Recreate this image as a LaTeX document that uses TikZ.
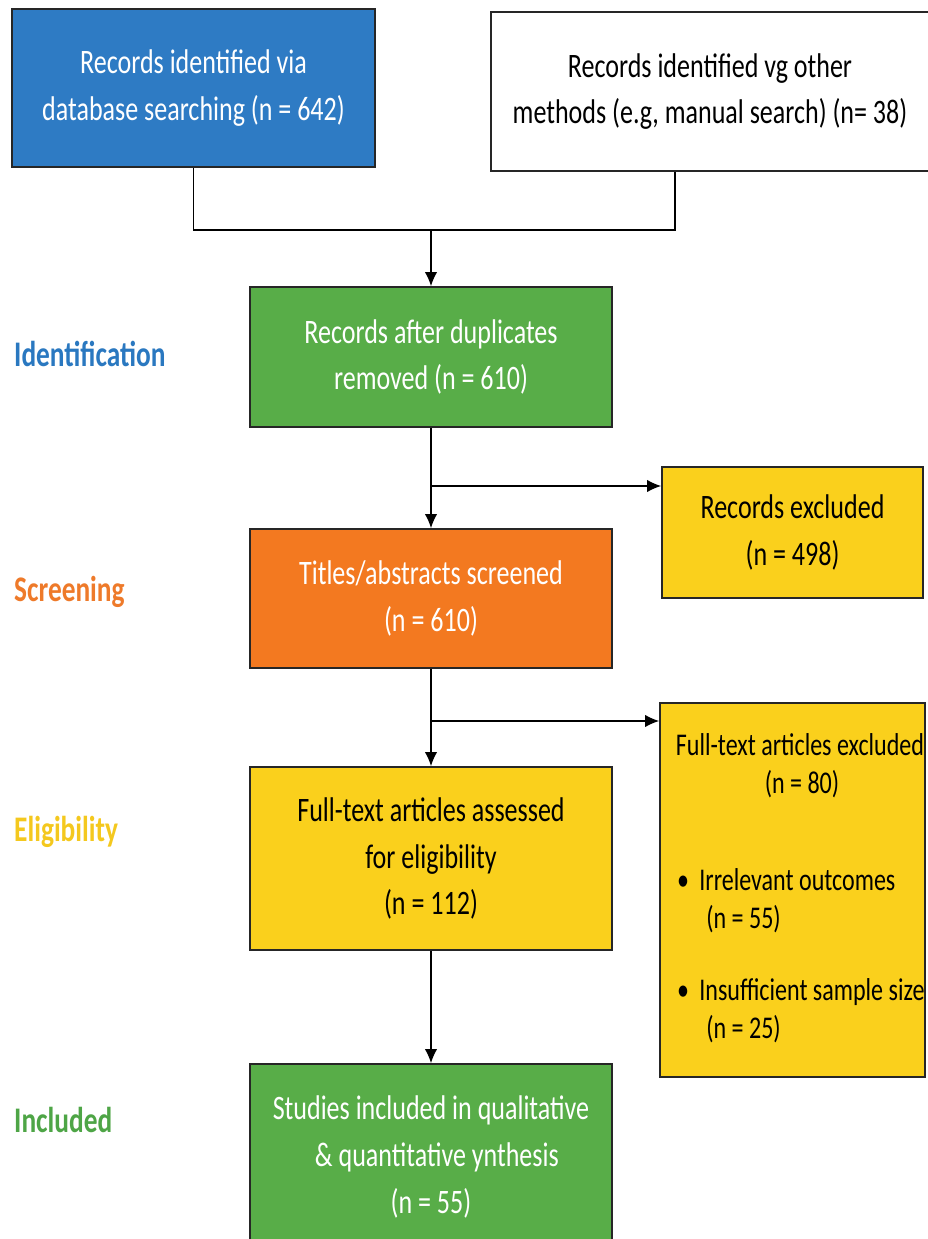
\documentclass[tikz,border=0pt]{standalone}
\usepackage{fontspec}
\setmainfont{Carlito}[FakeStretch=0.76]
\usepackage{tikz}
\usetikzlibrary{arrows.meta}
\usetikzlibrary{positioning}

\definecolor{dbblue}{RGB}{46,123,196}
\definecolor{boxgreen}{RGB}{88,173,72}
\definecolor{boxorange}{RGB}{243,121,32}
\definecolor{boxyellow}{RGB}{250,208,28}
\definecolor{lblblue}{RGB}{42,120,192}
\definecolor{lblorange}{RGB}{238,122,42}
\definecolor{lblyellow}{RGB}{244,200,30}
\definecolor{lblgreen}{RGB}{78,165,70}

\begin{document}
\begin{tikzpicture}[x=0.02cm,y=-0.02cm,
  box/.style={rectangle,draw=black!85,line width=0.9pt,align=center,inner sep=2pt,font=\fontsize{19.5}{26.6}\selectfont},
  mainbox/.style={box,minimum width=7.24cm},
  stage/.style={font=\bfseries\fontsize{20.5}{24}\selectfont,anchor=west},
  txt/.style={font=\fontsize{18}{22}\selectfont,inner sep=0pt},
  conn/.style={line width=0.8pt,black},
  arr/.style={conn,-{Latex[length=8pt,width=7pt]}}]
\useasboundingbox (0,0) rectangle (928,1239);

% sources
\node at (193.5,88)[box,fill=dbblue,text=white,minimum width=7.26cm,minimum height=3.16cm](db){Records identified via\\database searching (n = 642)};
\node at (710,91.5)[box,fill=white,minimum width=8.76cm,minimum height=3.18cm](other){Records identified vg other\\methods (e.g, manual search) (n= 38)};

% main column
\node at (431,357)[mainbox,fill=boxgreen,text=white,minimum height=2.8cm](dup){Records after duplicates\\removed (n = 610)};
\node at (431,598.5)[mainbox,fill=boxorange,text=white,minimum height=2.78cm](screen){Titles/abstracts screened\\(n = 610)};
\node at (431,858.5)[mainbox,fill=boxyellow,minimum height=3.66cm](elig){Full-text articles assessed\\for eligibility\\(n = 112)};
\node at (431,1157)[mainbox,fill=boxgreen,text=white,minimum height=3.72cm](incl){Studies included in qualitative\\\ \ \& quantitative ynthesis\\(n = 55)};

% excluded boxes
\node at (792.5,532.5)[box,fill=boxyellow,minimum width=5.22cm,minimum height=2.62cm](recexcl){Records excluded\\(n = 498)};
\node at (792.5,890)[box,fill=boxyellow,minimum width=5.3cm,minimum height=7.48cm](ftexcl){};
\node at (800,755)[txt,anchor=base](fthead){Full-text articles excluded};
\node at (802,793)[txt,anchor=base](ftn){(n = 80)};
\node at (683,890)[txt,anchor=base](bul1){\textbullet};
\node at (699,890)[txt,anchor=base west](irr){Irrelevant outcomes};
\node at (706,928)[txt,anchor=base west](irrn){(n = 55)};
\node at (683,1000)[txt,anchor=base](bul2){\textbullet};
\node at (699,1000)[txt,anchor=base west](ins){Insufficient sample size};
\node at (706,1038)[txt,anchor=base west](insn){(n = 25)};

% stage labels
\node at (8,354)[stage,text=lblblue](lid){Identification};
\node at (8,592)[stage,text=lblorange](lscr){Screening};
\node at (8,832)[stage,text=lblyellow](lelig){Eligibility};
\node at (8,1120)[stage,text=lblgreen](lincl){Included};

% connectors
\coordinate (jm) at (431,230);
\coordinate (jr) at (675,230);
\coordinate (br1) at (431,486);
\coordinate (br2) at (431,721);
\draw[conn] (db.south) |- (jm);
\draw[conn] (other.south -| jr) |- (jm);
\draw[arr] (jm) -- (dup.north);
\draw[arr] (dup.south) -- (screen.north);
\draw[arr] (br1) -- (br1 -| recexcl.west);
\draw[arr] (screen.south) -- (elig.north);
\draw[arr] (br2) -- (br2 -| ftexcl.west);
\draw[arr] (elig.south) -- (incl.north);
\end{tikzpicture}
\end{document}
